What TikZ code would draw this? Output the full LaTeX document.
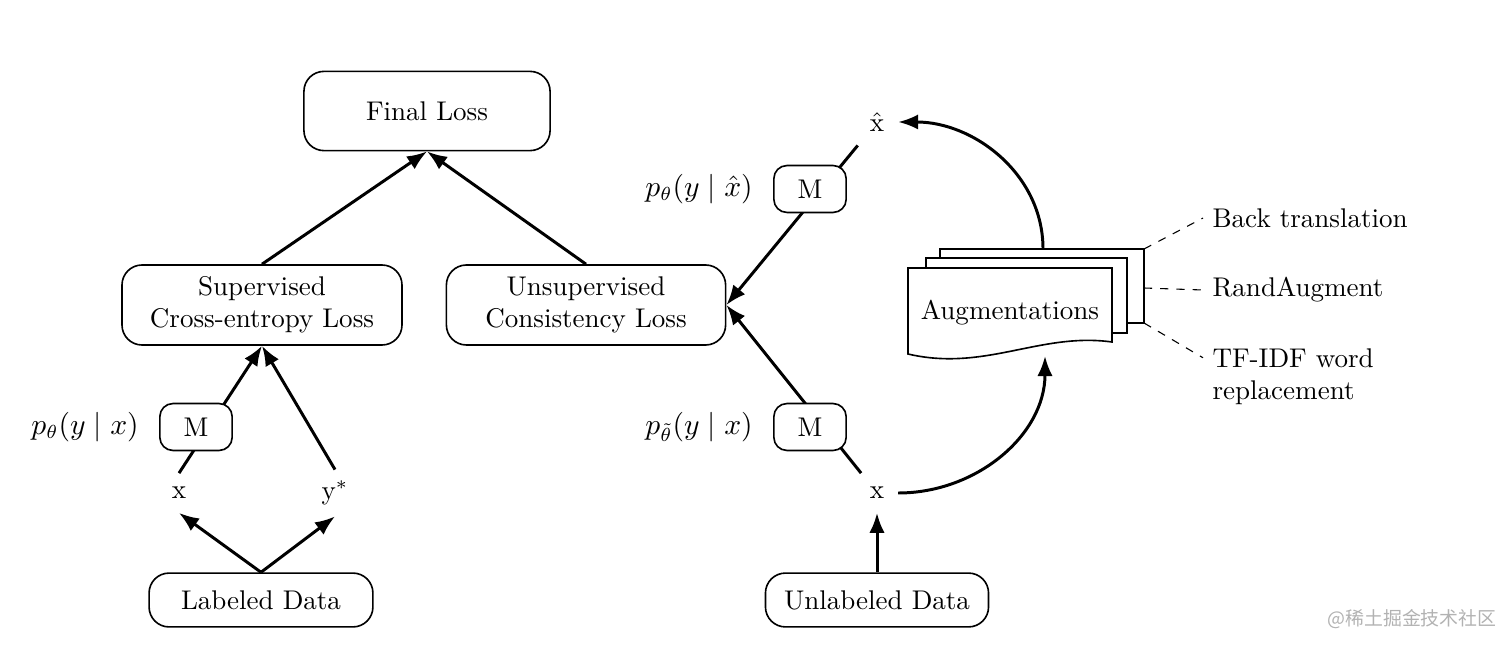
\documentclass[tikz,border=0pt]{standalone}
\usepackage{amsmath}
\usepackage{fontspec}
\newfontfamily\cjkfont{Noto Sans CJK SC}
\usepackage{tikz}
\usetikzlibrary{positioning, calc, arrows.meta}
\tikzset{box/.style = {draw, rounded corners=0.26cm, line width=0.6pt, align=center, fill=white},
         mbox/.style = {draw, rounded corners=0.17cm, line width=0.6pt, fill=white,
                        minimum width=0.94cm, minimum height=0.61cm},
         flow/.style = {line width=1.1pt, -{Latex[length=2.6mm,width=2mm]}},
         page/.style = {draw, line width=0.6pt, fill=white},
         plabel/.style = {font=\fontsize{10.6}{12}\selectfont}}

\begin{document}
\begin{tikzpicture}[x=0.013cm, y=-0.013cm]
                \useasboundingbox (0,0) rectangle (1512,648);
                % loss boxes
                \node[box, minimum width=3.2cm, minimum height=1.03cm] (final) at (427,111) {Final Loss};
                \node[box, minimum width=3.64cm, minimum height=1.04cm] (sup) at (262,305) {Supervised\\Cross-entropy Loss};
                \node[box, minimum width=3.63cm, minimum height=1.04cm] (unsup) at (586,305) {Unsupervised\\Consistency Loss};
                % data
                \node[box, minimum width=2.91cm, minimum height=0.70cm] (ld) at (261,600) {Labeled Data};
                \node[box, minimum width=2.9cm, minimum height=0.70cm] (ud) at (877,600) {Unlabeled Data};
                \node[inner sep=5pt] (xl) at (179,493) {x};
                \node[inner sep=4pt] (ys) at (335,493) {y$^{*}$};
                \node[inner sep=5pt] (xr) at (877,493) {x};
                \node[inner sep=5pt] (xh) at (877,122) {$\hat{\mathrm{x}}$};

                \draw[flow] (sup.north) -- (final.south);
                \draw[flow] (unsup.north) -- (final.south);
                \draw[flow] (ld.north) -- (xl.south);
                \draw[flow] (ld.north) -- (ys.south);
                \draw[flow] (xl.north) -- (sup.south);
                \draw[flow] (ys.north) -- (sup.south);
                \draw[flow] (xr) -- (unsup.east);
                \draw[flow] (xh) -- (unsup.east);
                \draw[flow] (ud.north) -- (xr);

                % models
                \node[mbox] (m1) at (196,427) {M};
                \node[plabel, left=0.14cm of m1] (p1) {$p_\theta(y \mid x)$};
                \node[mbox] (m2) at (810,427) {M};
                \node[plabel, left=0.14cm of m2] (p2) {$p_{\tilde\theta}(y \mid x)$};
                \node[mbox] (m3) at (810,189) {M};
                \node[plabel, left=0.14cm of m3] (p3) {$p_\theta(y \mid \hat{x})$};

                % augmentation stack
                \draw[page] (940,249) rectangle (1144,323);
                \draw[page] (926,258) rectangle (1127,333);
                \draw[page] (908,268) -- (1112,268) -- (1112,342)
                    .. controls (1040,332) and (985,372) .. (908,354) -- cycle;
                \node (aug) at (1010,313) {Augmentations};
                \coordinate (augb) at (1045,356);
                \coordinate (augt) at (1043,249);
                \coordinate (s1) at (1144,249);
                \coordinate (s2) at (1144,288);
                \coordinate (s3) at (1144,323);
                \draw[flow] (xr.east) to[out=0, in=-90] (augb);
                \draw[flow] (augt) to[out=90, in=0] (xh.east);

                \node[anchor=west] (bt) at (1203,218) {Back translation};
                \node[anchor=west] (ra) at (1203,290) {RandAugment};
                \node[anchor=west, align=left] (tf) at (1203,377) {TF-IDF word\\replacement};
                \draw[dashed] (s1) -- (bt.west);
                \draw[dashed] (s2) -- (ra.west);
                \draw[dashed] (s3) -- ([yshift=0.25cm]tf.west);

                \node[text=black!30, font=\cjkfont\scriptsize] (wm) at (1412,619) {@稀土掘金技术社区};
            \end{tikzpicture}
\end{document}
